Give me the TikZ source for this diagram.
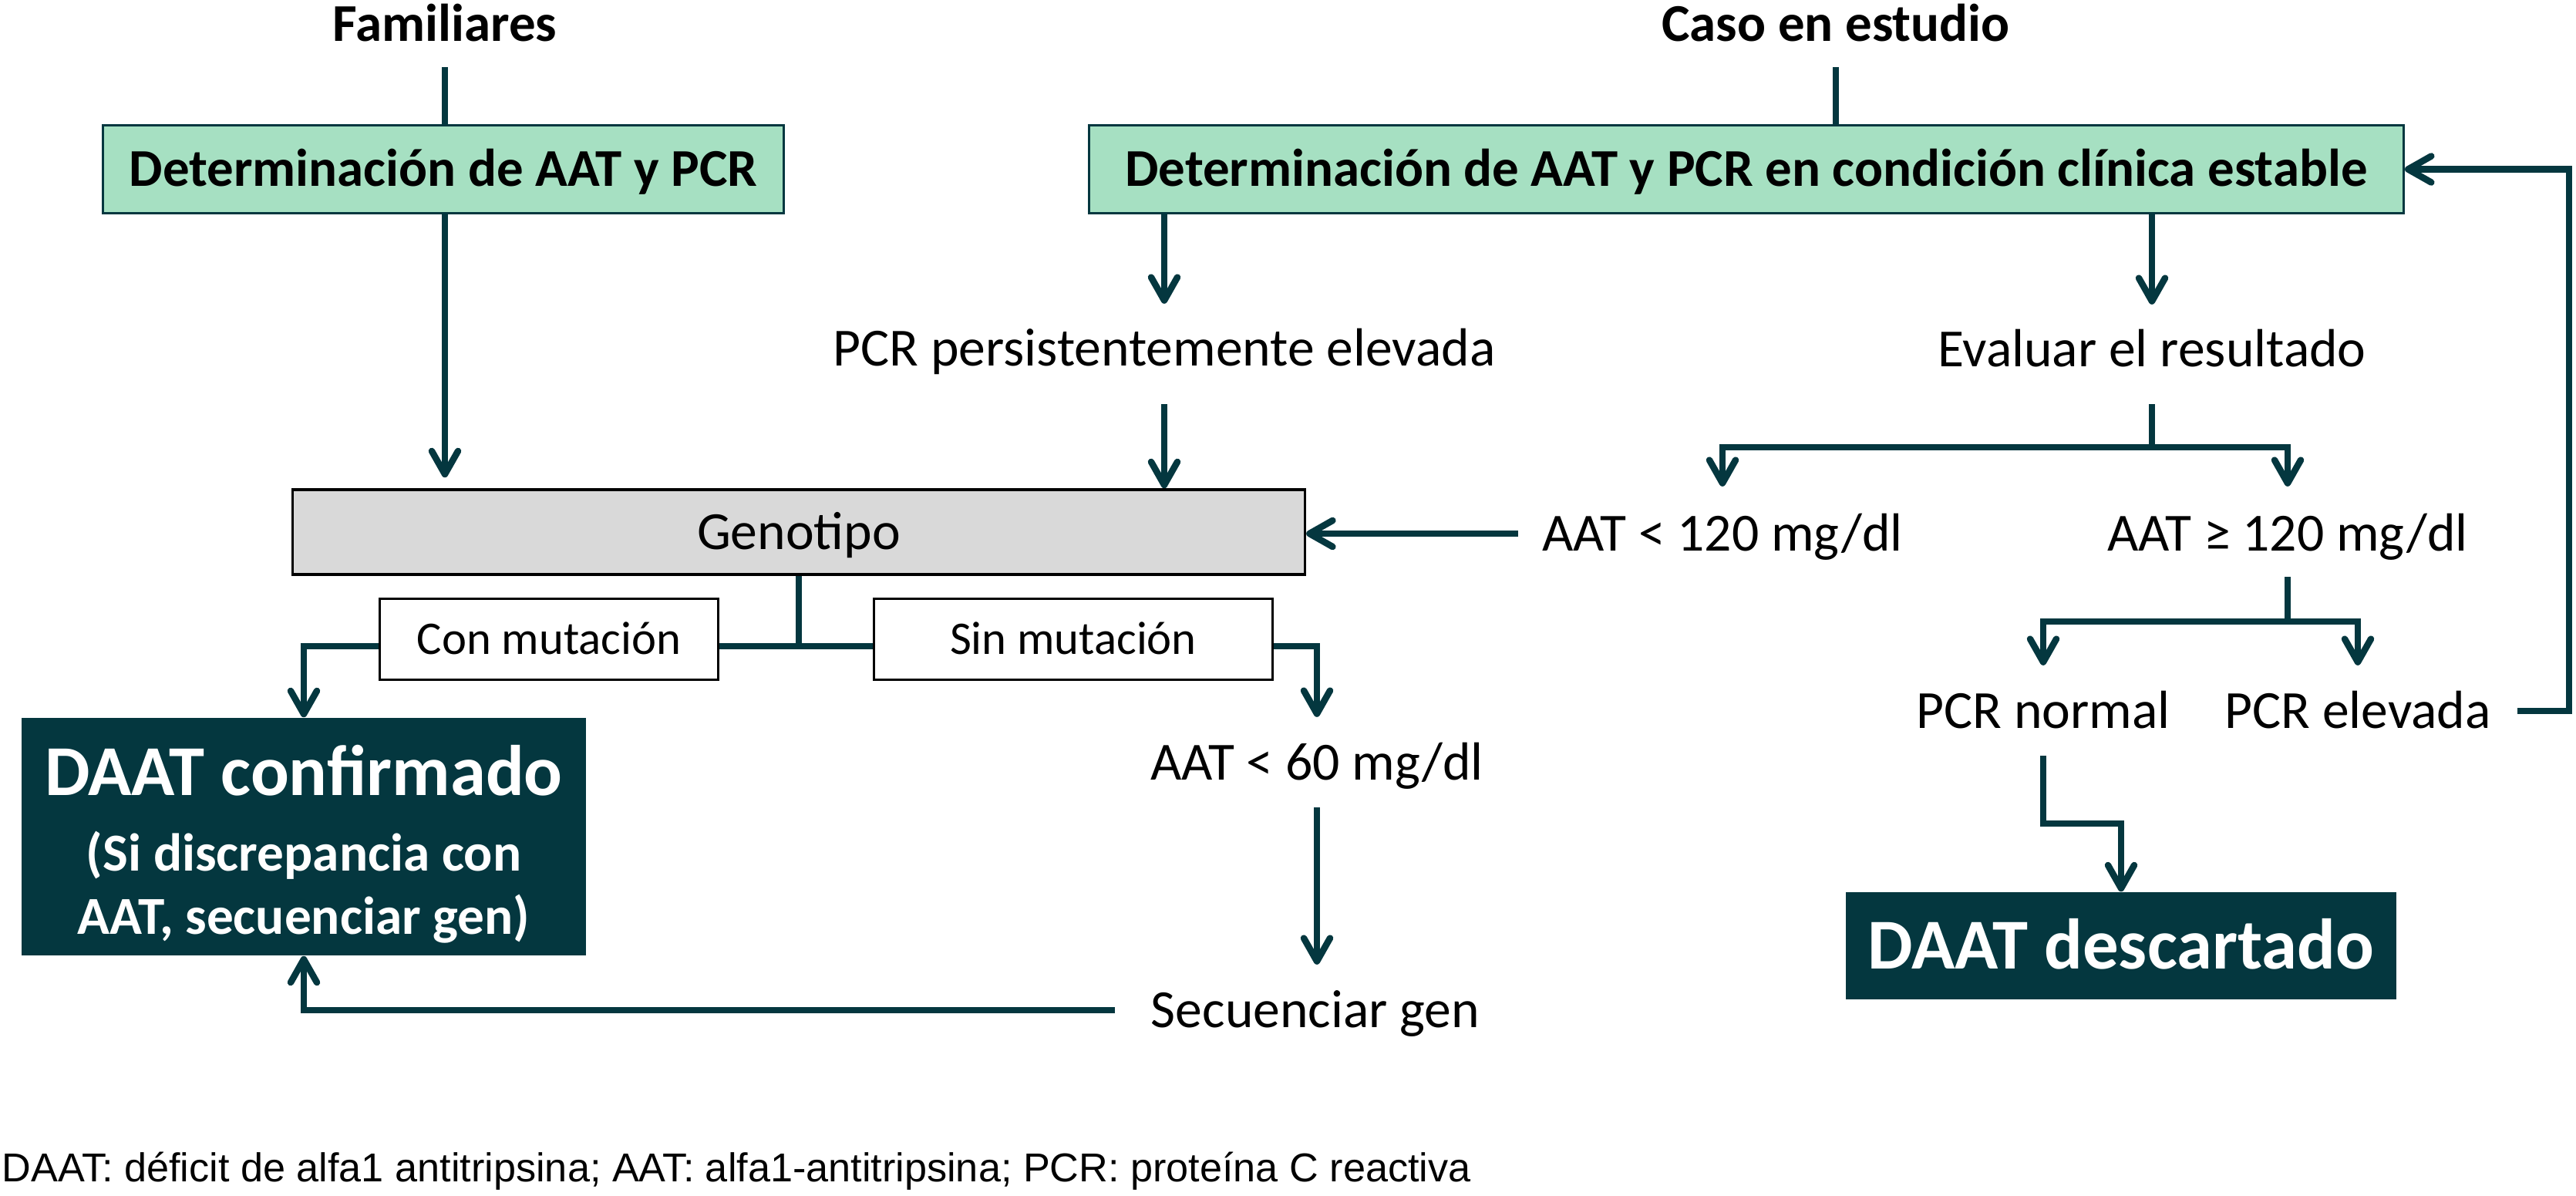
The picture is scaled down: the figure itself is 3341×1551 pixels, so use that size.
\documentclass[tikz,border=0pt]{standalone}
\usepackage{fontspec}
\setmainfont{Carlito}
\newfontfamily\footfont{Liberation Sans}
\usetikzlibrary{arrows.meta,backgrounds}
\definecolor{tealc}{RGB}{4,55,63}
\definecolor{mintc}{RGB}{166,224,194}
\definecolor{grayc}{RGB}{217,217,217}
\newcommand\fsReg{\fontsize{19.8}{23}\selectfont}
\newcommand\fsHead{\bfseries\fontsize{19.6}{23}\selectfont}
\newcommand\fsMut{\fontsize{17.25}{20}\selectfont}
\newcommand\fsBig{\bfseries\fontsize{26.4}{30}\selectfont}
\newcommand\fsSub{\bfseries\fontsize{19.7}{23.3}\selectfont}
\newcommand\fsFoot{\footfont\fontsize{14.85}{17}\selectfont}
\tikzset{
  conn/.style={draw=tealc, line width=0.085cm},
  arr/.style={conn, -{Straight Barb[length=0.3cm,width=0.34cm,round]}},
  lbl/.style={inner sep=0pt, font=\fsReg, text height=0.448cm, text depth=0pt},
  head/.style={inner sep=0pt, font=\fsHead, text height=0.445cm, text depth=0pt},
  greenbox/.style={draw=tealc, fill=mintc, line width=0.03cm, inner sep=0pt,
    minimum height=1.13cm, font=\fsHead, text height=0.445cm, text depth=0pt},
  genobox/.style={draw=black, fill=grayc, line width=0.035cm, inner sep=0pt,
    minimum height=1.10cm, font=\fsReg, text height=0.448cm, text depth=0pt},
  mutbox/.style={draw=black, fill=white, line width=0.03cm, inner sep=0pt,
    minimum height=1.04cm, font=\fsMut, text height=0.39cm, text depth=0pt},
  darkbox/.style={fill=tealc, text=white, inner sep=0pt},
  foot/.style={inner sep=0pt, font=\fsFoot, anchor=west}
}
\begin{document}
\begin{tikzpicture}[x=0.01cm,y=-0.01cm]
\useasboundingbox (0,0) rectangle (3341,1551);

\node[head] (fam) at (577,31) {Familiares};
\node[head] (caso) at (2381,31) {Caso en estudio};
\node[greenbox, minimum width=8.82cm] (detL) at (575,219.5) {Determinación de AAT y PCR};
\node[greenbox, minimum width=17.04cm] (detR) at (2265,219.5) {Determinación de AAT y PCR en condición clínica estable};
\node[lbl] (pcrp) at (1510,452) {PCR persistentemente elevada};
\node[lbl] (eval) at (2791,453) {Evaluar el resultado};
\node[genobox, minimum width=13.12cm] (geno) at (1036,690) {Genotipo};
\node[lbl] (a120l) at (2234,692) {AAT < 120 mg/dl};
\node[lbl] (a120g) at (2967,692) {AAT ≥ 120 mg/dl};
\node[mutbox, minimum width=4.38cm] (conm) at (712,829) {Con mutación};
\node[mutbox, minimum width=5.16cm] (sinm) at (1392,829) {Sin mutación};
\node[darkbox, minimum width=7.32cm, minimum height=3.08cm, align=center, font=\fsSub] (conf) at (394,1085)
  {\rule{0pt}{24pt}{\fsBig DAAT confirmado}\\[4.5pt](Si discrepancia con\\AAT, secuenciar gen)};
\node[lbl] (a60) at (1708,989) {AAT < 60 mg/dl};
\node[lbl] (secu) at (1706,1310) {Secuenciar gen};
\node[lbl] (pcrn) at (2650,922) {PCR normal};
\node[lbl] (pcre) at (3058,922) {PCR elevada};
\node[darkbox, minimum width=7.14cm, minimum height=1.39cm, font=\fsBig, text height=0.598cm, text depth=0pt] (desc) at (2751,1226.5) {DAAT descartado};
\node[foot] (foot) at (2,1519) {DAAT: déficit de alfa1 antitripsina; AAT: alfa1-antitripsina; PCR: proteína C reactiva};

\coordinate (evb) at (2791,580);
\coordinate (agb) at (2967,806);
\coordinate (rb) at (3332,922);
\coordinate (pn1) at (2650,1068);
\coordinate (gs) at (1036,838);

\begin{scope}[on background layer]
\fill[white] (0,0) rectangle (3341,1551);
\draw[conn, shorten <=0.33cm] (fam.south) -- (fam.south |- detL.north);
\draw[conn, shorten <=0.33cm] (caso.south) -- (caso.south |- detR.north);
\draw[arr, shorten >=0.14cm] (fam.south |- detL.south) -- (fam.south |- geno.north);
\draw[arr, shorten >=0.35cm] (pcrp.north |- detR.south) -- (pcrp.north);
\draw[arr, shorten <=0.49cm] (pcrp.south) -- (pcrp.south |- geno.north);
\draw[arr, shorten >=0.35cm] (eval.north |- detR.south) -- (eval.north);
\draw[conn, shorten <=0.48cm] (eval.south) -- (evb);
\draw[arr, shorten >=0.38cm] (evb) -| (a120l.north);
\draw[arr, shorten >=0.38cm] (evb) -| (a120g.north);
\draw[arr, shorten <=0.31cm] (a120l.west) -- (a120l.west -| geno.east);
\draw[conn, shorten <=0.33cm] (a120g.south) -- (agb);
\draw[arr, shorten >=0.36cm] (agb) -| (pcrn.north);
\draw[arr, shorten >=0.36cm] (agb) -| (pcre.north);
\draw[arr, shorten <=0.34cm] (pcre.east) -- (rb) |- (detR.east);
\draw[arr, shorten <=0.35cm] (pcrn.south) -- (pn1) -| (desc.north);
\draw[conn] (geno.south) -- (gs);
\draw[arr] (gs) -| (conf.north);
\draw[arr, shorten >=0.36cm] (gs) -| (a60.north);
\draw[arr, shorten <=0.35cm, shorten >=0.36cm] (a60.south) -- (a60.south |- secu.north);
\draw[arr, shorten <=0.46cm] (secu.west) -| (conf.south);
\end{scope}
\end{tikzpicture}
\end{document}
